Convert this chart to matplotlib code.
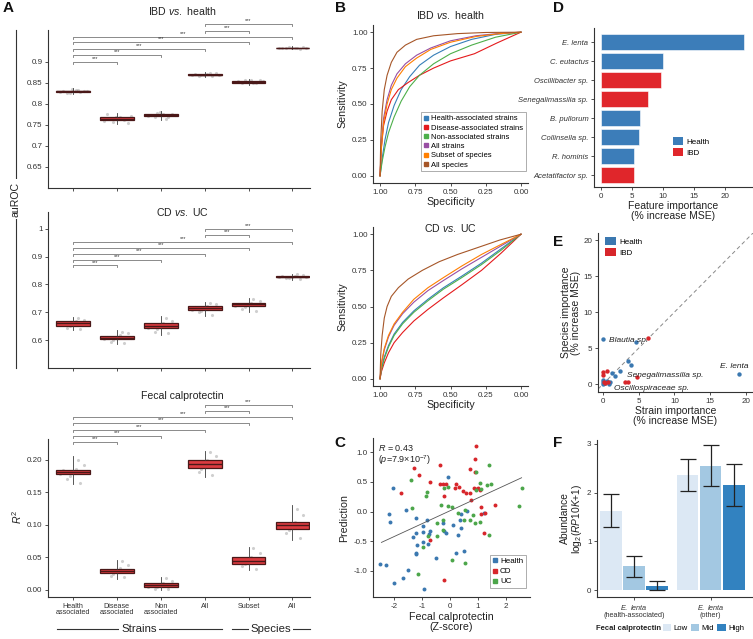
import numpy as np
import matplotlib
matplotlib.use('Agg')
import matplotlib.pyplot as plt
from matplotlib.lines import Line2D
from matplotlib.patches import Patch

plt.rcParams['font.family'] = ['Liberation Sans', 'DejaVu Sans']
plt.rcParams['mathtext.fontset'] = 'custom'
plt.rcParams['mathtext.rm'] = 'Liberation Sans'
plt.rcParams['mathtext.it'] = 'Liberation Sans:italic'
plt.rcParams['mathtext.bf'] = 'Liberation Sans:bold'

# ---------------- data ----------------
box_cats = ['Health\nassociated', 'Disease\nassociated', 'Non\nassociated', 'All', 'Subset', 'All']
comparisons = [(3, 5), (3, 4), (0, 5), (0, 4), (0, 3), (0, 2), (0, 1)]

ibd_med = [0.830, 0.765, 0.773, 0.870, 0.853, 0.933]
ibd_q1 = [0.828, 0.761, 0.771, 0.868, 0.851, 0.932]
ibd_q3 = [0.832, 0.768, 0.776, 0.872, 0.855, 0.934]
ibd_lo = [0.823, 0.752, 0.762, 0.864, 0.846, 0.930]
ibd_hi = [0.838, 0.779, 0.783, 0.876, 0.860, 0.937]
ibd_pts = [[0.829, 0.833, 0.826, 0.831, 0.836, 0.828, 0.830, 0.834, 0.825, 0.832],
           [0.760, 0.770, 0.765, 0.755, 0.768, 0.762, 0.775, 0.766, 0.758, 0.771],
           [0.772, 0.777, 0.768, 0.775, 0.780, 0.770, 0.774, 0.765, 0.778, 0.773],
           [0.869, 0.872, 0.867, 0.874, 0.870, 0.866, 0.871, 0.873, 0.868, 0.870],
           [0.852, 0.856, 0.850, 0.858, 0.853, 0.849, 0.855, 0.851, 0.857, 0.854],
           [0.933, 0.934, 0.932, 0.935, 0.933, 0.931, 0.934, 0.932, 0.936, 0.933]]
ibd_brackets = [0.990, 0.974, 0.960, 0.948, 0.931, 0.917, 0.900]

cd_med = [0.660, 0.609, 0.652, 0.715, 0.728, 0.828]
cd_q1 = [0.652, 0.603, 0.643, 0.707, 0.721, 0.825]
cd_q3 = [0.668, 0.616, 0.660, 0.722, 0.735, 0.830]
cd_lo = [0.635, 0.585, 0.618, 0.685, 0.700, 0.815]
cd_hi = [0.682, 0.635, 0.685, 0.738, 0.750, 0.838]
cd_pts = [[0.655, 0.668, 0.645, 0.672, 0.660, 0.640, 0.663, 0.678, 0.650, 0.658],
          [0.605, 0.618, 0.595, 0.625, 0.610, 0.590, 0.612, 0.630, 0.600, 0.608],
          [0.645, 0.660, 0.630, 0.668, 0.652, 0.625, 0.657, 0.680, 0.640, 0.650],
          [0.710, 0.722, 0.700, 0.730, 0.715, 0.692, 0.718, 0.735, 0.705, 0.712],
          [0.722, 0.735, 0.712, 0.742, 0.728, 0.705, 0.731, 0.748, 0.718, 0.726],
          [0.826, 0.830, 0.822, 0.833, 0.828, 0.818, 0.829, 0.836, 0.824, 0.827]]
cd_brackets = [1.000, 0.979, 0.954, 0.932, 0.911, 0.889, 0.868]

fc_med = [0.181, 0.029, 0.007, 0.194, 0.045, 0.100]
fc_q1 = [0.178, 0.026, 0.004, 0.188, 0.040, 0.094]
fc_q3 = [0.185, 0.032, 0.010, 0.199, 0.051, 0.105]
fc_lo = [0.163, 0.017, 0.000, 0.174, 0.030, 0.077]
fc_hi = [0.206, 0.046, 0.019, 0.213, 0.066, 0.130]
fc_pts = [[0.178, 0.186, 0.170, 0.192, 0.181, 0.165, 0.184, 0.200, 0.175, 0.183],
          [0.027, 0.033, 0.022, 0.038, 0.029, 0.019, 0.031, 0.044, 0.025, 0.030],
          [0.005, 0.010, 0.002, 0.014, 0.007, 0.001, 0.009, 0.018, 0.004, 0.008],
          [0.190, 0.200, 0.182, 0.206, 0.194, 0.176, 0.197, 0.212, 0.186, 0.193],
          [0.041, 0.050, 0.036, 0.057, 0.045, 0.032, 0.048, 0.064, 0.039, 0.046],
          [0.095, 0.105, 0.088, 0.115, 0.100, 0.080, 0.103, 0.125, 0.092, 0.099]]
fc_brackets = [0.285, 0.275, 0.266, 0.257, 0.246, 0.237, 0.228]

roc_labels = ['Health-associated strains', 'Disease-associated strains', 'Non-associated strains',
              'All strains', 'Subset of species', 'All species']
roc_colors = ['#377EB8', '#E41A1C', '#4DAF4A', '#984EA3', '#FF7F00', '#A65628']

ibd_roc_spec = [[1, 0.985, 0.965, 0.94, 0.90, 0.85, 0.79, 0.72, 0.62, 0.50, 0.35, 0.18, 0],
                [1, 0.99, 0.975, 0.95, 0.92, 0.87, 0.80, 0.72, 0.62, 0.50, 0.33, 0.17, 0],
                [1, 0.985, 0.965, 0.94, 0.90, 0.85, 0.79, 0.72, 0.62, 0.50, 0.35, 0.18, 0],
                [1, 0.99, 0.975, 0.95, 0.92, 0.88, 0.82, 0.74, 0.64, 0.50, 0.32, 0.15, 0],
                [1, 0.99, 0.975, 0.95, 0.92, 0.88, 0.82, 0.74, 0.64, 0.50, 0.32, 0.15, 0],
                [1, 0.995, 0.985, 0.97, 0.95, 0.92, 0.88, 0.82, 0.74, 0.62, 0.45, 0.25, 0]]
ibd_roc_sens = [[0, 0.12, 0.25, 0.37, 0.49, 0.60, 0.69, 0.77, 0.84, 0.90, 0.95, 0.985, 1],
                [0, 0.20, 0.35, 0.45, 0.53, 0.60, 0.65, 0.70, 0.75, 0.80, 0.85, 0.925, 1],
                [0, 0.10, 0.20, 0.30, 0.41, 0.52, 0.62, 0.70, 0.78, 0.85, 0.91, 0.965, 1],
                [0, 0.22, 0.40, 0.53, 0.63, 0.71, 0.78, 0.84, 0.89, 0.94, 0.975, 0.992, 1],
                [0, 0.20, 0.37, 0.50, 0.60, 0.68, 0.76, 0.82, 0.88, 0.93, 0.97, 0.99, 1],
                [0, 0.25, 0.45, 0.60, 0.70, 0.79, 0.86, 0.91, 0.95, 0.975, 0.99, 0.998, 1]]

cd_roc_spec = [[1, 0.99, 0.97, 0.94, 0.90, 0.84, 0.76, 0.66, 0.55, 0.42, 0.28, 0.14, 0],
               [1, 0.99, 0.97, 0.94, 0.90, 0.84, 0.76, 0.66, 0.55, 0.42, 0.28, 0.14, 0],
               [1, 0.99, 0.97, 0.94, 0.90, 0.84, 0.76, 0.66, 0.55, 0.42, 0.28, 0.14, 0],
               [1, 0.99, 0.97, 0.94, 0.90, 0.84, 0.76, 0.66, 0.55, 0.42, 0.28, 0.14, 0],
               [1, 0.99, 0.97, 0.94, 0.90, 0.84, 0.76, 0.66, 0.55, 0.42, 0.28, 0.14, 0],
               [1, 0.995, 0.985, 0.97, 0.95, 0.92, 0.87, 0.80, 0.70, 0.58, 0.45, 0.30, 0.15, 0]]
cd_roc_sens = [[0, 0.07, 0.15, 0.23, 0.31, 0.39, 0.47, 0.55, 0.63, 0.71, 0.80, 0.90, 1],
               [0, 0.05, 0.11, 0.18, 0.25, 0.32, 0.40, 0.48, 0.56, 0.65, 0.75, 0.87, 1],
               [0, 0.065, 0.14, 0.22, 0.30, 0.38, 0.46, 0.54, 0.62, 0.70, 0.79, 0.89, 1],
               [0, 0.10, 0.20, 0.29, 0.37, 0.45, 0.53, 0.61, 0.68, 0.76, 0.84, 0.92, 1],
               [0, 0.11, 0.21, 0.30, 0.38, 0.46, 0.55, 0.63, 0.70, 0.78, 0.86, 0.93, 1],
               [0, 0.17, 0.30, 0.42, 0.50, 0.57, 0.63, 0.69, 0.75, 0.81, 0.86, 0.91, 0.96, 1]]

c_health_x = [-2.05, -2.19, -2.14, -1.59, -1.2, -0.07, -0.82, -0.98, -0.96, -0.77, -1.2, -1.31, -1.17,
              -1.21, -1.2, -0.96, -0.8, -0.7, -0.21, -0.15, 0.11, 0.28, 0.4, 0.34, 0.38, 0.6, 0.22,
              0.5, -0.49, -1.5, -1.67, -2.0, -2.5, -2.28, -0.92, 1.22, -0.25]
c_health_y = [0.39, -0.04, -0.18, 0.03, -0.1, 0.59, -0.15, -0.25, -0.35, -0.38, -0.36, -0.43, -0.56,
              -0.69, -0.72, -0.52, -0.54, -0.33, -0.32, -0.36, -0.22, -0.39, -0.28, -0.14, -0.04, 0.01,
              -0.7, -0.67, -0.79, -0.98, -1.12, -1.2, -0.89, -0.9, -1.3, -0.03, -0.19]
c_cd_x = [0.93, 0.89, -0.37, -1.28, -1.10, 0.72, 0.89, -0.72, -1.75, -0.37, -0.27, -0.15, 0.22, 0.17,
          0.32, 0.46, 0.58, 0.70, 0.93, 1.05, 0.76, -0.2, 1.12, 1.11, 1.25, 1.61, 1.21, -0.72, -0.22,
          0.86, 0.99]
c_cd_y = [1.11, 0.88, 0.79, 0.74, 0.61, 0.72, 0.67, 0.49, 0.31, 0.46, 0.46, 0.46, 0.47, 0.39, 0.41,
          0.34, 0.32, 0.31, 0.38, 0.37, 0.20, 0.27, 0.07, -0.04, -0.02, 0.11, -0.36, -0.48, -1.15,
          0.40, 0.40]
c_uc_x = [1.37, -1.41, -0.82, -0.86, -1.36, -0.21, -0.06, -0.33, -0.07, 0.05, 0.54, 0.27, 1.05, 1.31,
          1.47, 1.11, 0.93, 0.93, 2.56, 2.47, -0.45, -0.25, -0.25, -0.45, -0.98, -0.8, 0.5, 0.82, 0.88,
          1.05, 1.37, 0.08, 0.52, -1.16, 0.7]
c_uc_y = [0.78, 0.53, 0.33, 0.27, 0.06, 0.39, 0.42, 0.11, 0.09, 0.08, 0.03, -0.03, 0.48, 0.44, 0.46,
          0.38, 0.37, 0.67, 0.39, 0.09, -0.19, -0.14, -0.31, -0.41, -0.6, -0.42, -0.15, -0.05, -0.19,
          -0.18, -0.39, -0.81, -0.87, -1.06, -0.14]
c_fit_x = [-2.45, 2.55]
c_fit_y = [-0.52, 0.57]

d_species = ['E. lenta', 'C. eutactus', 'Oscillibacter sp.', 'Senegalimassilia sp.', 'B. pullorum',
             'Collinsella sp.', 'R. hominis', 'Acetatifactor sp.']
d_importance = [23.0, 9.9, 9.7, 7.5, 6.2, 6.1, 5.3, 5.2]
d_group = ['Health', 'Health', 'IBD', 'IBD', 'Health', 'Health', 'Health', 'IBD']

e_health_x = [0, 4.6, 3.55, 3.87, 2.4, 1.24, 1.7, 19.1, 0, 0.55, 1.0, 0, 0.8, 0.3, 0.0]
e_health_y = [6.28, 5.8, 3.14, 2.68, 1.76, 1.52, 1.06, 1.43, 0.6, 0.37, 0.28, 0.05, 0.0, 0.2, 0.3]
e_ibd_x = [6.3, 0, 0.55, 0, 4.7, 3.1, 3.55, 0.3, 0.65, 0.1]
e_ibd_y = [6.37, 1.66, 1.76, 1.2, 0.92, 0.23, 0.23, 0.14, 0.23, 0.3]
e_labels = ['Blautia sp.', 'Senegalimassilia sp.', 'Oscillospiraceae sp.', 'E. lenta']
e_label_point = [0, 4, 12, 7]

f_groups = ['health-associated', 'other']
f_levels = ['Low', 'Mid', 'High']
f_colors = ['#DCE8F4', '#A3C8E2', '#3282C0']
f_mean = [[1.63, 0.50, 0.08], [2.36, 2.55, 2.16]]
f_lo = [[1.30, 0.28, 0.00], [2.04, 2.13, 1.73]]
f_hi = [[1.97, 0.71, 0.18], [2.70, 2.98, 2.59]]

# ---------------- figure ----------------
W, H = 753, 639
fig = plt.figure(figsize=(W / 100, H / 100), dpi=100)
fig.patch.set_facecolor('white')


def ax_px(l, t, r, b):
    return fig.add_axes([l / W, 1 - b / H, (r - l) / W, (b - t) / H])


def ftext(x, y, s, **kw):
    return fig.text(x / W, 1 - y / H, s, **kw)


def fline(x0, y0, x1, y1, **kw):
    fig.add_artist(Line2D([x0 / W, x1 / W], [1 - y0 / H, 1 - y1 / H], transform=fig.transFigure, **kw))


TC = '#333333'


def style(ax, ls=5.8):
    for s in ['top', 'right']:
        ax.spines[s].set_visible(False)
    for s in ['left', 'bottom']:
        ax.spines[s].set_color(TC)
        ax.spines[s].set_linewidth(0.8)
    ax.tick_params(direction='out', length=2.5, width=0.6, colors=TC, labelsize=ls, pad=1.5)
    ax.set_facecolor('none')


def box_panel(ax, med, q1, q3, lo, hi, pts, brackets, ylim, yticks, ylabels, hpx):
    style(ax)
    offs = np.array([-0.3, 0.06, -0.14, 0.25, -0.02, 0.17, -0.23, 0.11, -0.08, 0.32])
    for i, p in enumerate(pts):
        ax.scatter(i + offs, p, s=5, color='#a8a8a8', alpha=0.55, lw=0, zorder=1)
    stats = [dict(med=m, q1=a, q3=b, whislo=l, whishi=h) for m, a, b, l, h in zip(med, q1, q3, lo, hi)]
    ax.bxp(stats, positions=np.arange(len(stats)), widths=0.77, patch_artist=True, showfliers=False,
           showcaps=False, manage_ticks=False,
           boxprops=dict(facecolor='#DC3B40', edgecolor='#4a1818', linewidth=0.9),
           medianprops=dict(color='#4a1818', linewidth=1.0),
           whiskerprops=dict(color='#3a3a3a', linewidth=0.6), zorder=2)
    ax.set_xlim(-0.57, 5.4)
    ax.set_ylim(*ylim)
    ax.set_yticks(yticks)
    ax.set_yticklabels(ylabels)
    ax.set_xticks(np.arange(6))
    dy = (ylim[1] - ylim[0]) * 2.0 / hpx
    for (a, b), y in zip(comparisons, brackets):
        ax.plot([a, a, b, b], [y - dy, y, y, y - dy], color='#777777', lw=0.6, clip_on=False)
        ax.text((a + b) / 2, y + dy * 0.3, '***', ha='center', va='bottom', fontsize=4, color=TC,
                clip_on=False)


# Panel A
a1 = ax_px(48, 30, 310, 188)
box_panel(a1, ibd_med, ibd_q1, ibd_q3, ibd_lo, ibd_hi, ibd_pts, ibd_brackets, (0.6, 0.976),
          [0.65, 0.7, 0.75, 0.8, 0.85, 0.9], ['0.65', '0.7', '0.75', '0.8', '0.85', '0.9'], 158)
a1.set_xticklabels([])
a2 = ax_px(48, 212, 310, 368)
box_panel(a2, cd_med, cd_q1, cd_q3, cd_lo, cd_hi, cd_pts, cd_brackets, (0.5, 1.06),
          [0.6, 0.7, 0.8, 0.9, 1.0], ['0.6', '0.7', '0.8', '0.9', '1'], 156)
a2.set_xticklabels([])
a3 = ax_px(48, 439, 310, 597)
box_panel(a3, fc_med, fc_q1, fc_q3, fc_lo, fc_hi, fc_pts, fc_brackets, (-0.011, 0.232),
          [0, 0.05, 0.10, 0.15, 0.20], ['0.00', '0.05', '0.10', '0.15', '0.20'], 158)
a3.set_xticklabels(box_cats, fontsize=5.2, linespacing=0.95)

ftext(182, 11, r'IBD $\it{vs.}$ health', ha='center', va='center', fontsize=7.6, color='#222')
ftext(182, 212, r'CD $\it{vs.}$ UC', ha='center', va='center', fontsize=7.6, color='#222')
ftext(182, 396, 'Fecal calprotectin', ha='center', va='center', fontsize=7.6, color='#222')

fline(16, 30, 16, 368, color=TC, lw=0.8)
ftext(16, 199, 'auROC', rotation=90, ha='center', va='center', fontsize=7.6, color='#222',
      bbox=dict(facecolor='white', edgecolor='none', pad=1.5))
ftext(17, 517, r'$\it{R}^2$', rotation=90, ha='center', va='center', fontsize=7.6, color='#222')

fline(57, 629, 222, 629, color=TC, lw=0.8)
ftext(139, 629, 'Strains', ha='center', va='center', fontsize=8.2, color='#222',
      bbox=dict(facecolor='white', edgecolor='none', pad=1.5))
fline(232, 629, 310, 629, color=TC, lw=0.8)
ftext(271, 629, 'Species', ha='center', va='center', fontsize=8.2, color='#222',
      bbox=dict(facecolor='white', edgecolor='none', pad=1.5))

# Panel B
def roc_panel(ax, specs, senss):
    style(ax)
    for sp, se, c in zip(specs, senss, roc_colors):
        ax.plot(sp, se, color=c, lw=0.8)
    ax.set_xlim(1.05, -0.05)
    ax.set_ylim(-0.05, 1.05)
    t = [0, 0.25, 0.5, 0.75, 1.0]
    ax.set_xticks(t)
    ax.set_xticklabels(['0.00', '0.25', '0.50', '0.75', '1.00'])
    ax.set_yticks(t)
    ax.set_yticklabels(['0.00', '0.25', '0.50', '0.75', '1.00'])
    ax.set_xlabel('Specificity', fontsize=7.7, labelpad=1, color='#222')
    ax.set_ylabel('Sensitivity', fontsize=7.7, labelpad=3, color='#222')


b1 = ax_px(373, 25, 528, 183)
roc_panel(b1, ibd_roc_spec, ibd_roc_sens)
hs = [Line2D([], [], marker='s', ls='none', color=c, markersize=3) for c in roc_colors]
lg = b1.legend(hs, roc_labels, loc='lower right', bbox_to_anchor=(1.01, 0.05), fontsize=5.5,
               frameon=True, fancybox=False, edgecolor='#888', handlelength=0.6, handletextpad=0.3,
               borderpad=0.35, labelspacing=0.25)
lg.get_frame().set_linewidth(0.6)
b2 = ax_px(373, 227, 528, 386)
roc_panel(b2, cd_roc_spec, cd_roc_sens)
ftext(450, 15, r'IBD $\it{vs.}$ health', ha='center', va='center', fontsize=7.6, color='#222')
ftext(450, 228, r'CD $\it{vs.}$ UC', ha='center', va='center', fontsize=7.6, color='#222')

# Panel C
c = ax_px(373, 438, 530, 597)
style(c)
c.scatter(c_health_x, c_health_y, s=8, color='#3B78B0', lw=0, label='Health')
c.scatter(c_cd_x, c_cd_y, s=8, color='#D7262B', lw=0, label='CD')
c.scatter(c_uc_x, c_uc_y, s=8, color='#4CA64A', lw=0, label='UC')
c.plot(c_fit_x, c_fit_y, color='#555555', lw=0.6)
c.set_xlim(-2.75, 2.85)
c.set_ylim(-1.44, 1.24)
c.set_xticks([-2, -1, 0, 1, 2])
c.set_xticklabels(['-2', '-1', '0', '1', '2'])
c.set_yticks([-1, -0.5, 0, 0.5, 1])
c.set_yticklabels(['-1.0', '-0.5', '0.0', '0.5', '1.0'])
c.set_ylabel('Prediction', fontsize=7.7, labelpad=3, color='#222')
c.set_xlabel('Fecal calprotectin\n(Z-score)', fontsize=7.7, labelpad=2, color='#222', linespacing=1.0)
hc = [Line2D([], [], marker='s', ls='none', color=col, markersize=3) for col in ['#3B78B0', '#D7262B', '#4CA64A']]
lc = c.legend(hc, ['Health', 'CD', 'UC'], loc='lower right', bbox_to_anchor=(1.0, 0.03), fontsize=5.8,
              frameon=True, fancybox=False, edgecolor='#888', handlelength=0.6, handletextpad=0.3,
              borderpad=0.35, labelspacing=0.3)
lc.get_frame().set_linewidth(0.6)
c.text(0.03, 0.97, r'$\it{R}$ = 0.43' + '\n' + r'($\it{p}$=7.9×10$^{-7}$)', transform=c.transAxes,
       ha='left', va='top', fontsize=6.5, color='#222', linespacing=1.1)

# Panel D
d = ax_px(594, 28, 753, 187)
style(d)
dcol = {'Health': '#3C7DB9', 'IBD': '#E0262B'}
d.barh(np.arange(len(d_species)), d_importance, height=0.88, color=[dcol[g] for g in d_group],
       edgecolor='white', linewidth=0.4)
d.set_yticks(np.arange(len(d_species)))
d.set_yticklabels(d_species, fontstyle='italic', fontsize=5.5)
d.set_ylim(7.63, -0.74)
d.set_xlim(-1.2, 24.5)
d.set_xticks([0, 5, 10, 15, 20])
d.set_xlabel('Feature importance\n(% increase MSE)', fontsize=7.5, labelpad=1, color='#222', linespacing=1.0)
hd = [Patch(facecolor=dcol['Health']), Patch(facecolor=dcol['IBD'])]
d.legend(hd, ['Health', 'IBD'], loc='center left', bbox_to_anchor=(0.45, 0.25), fontsize=5.8,
         frameon=False, handlelength=1.3, handleheight=1.1, handletextpad=0.4, labelspacing=0.3)

# Panel E
e = ax_px(598, 233, 753, 392)
style(e)
e.axline((0, 0), slope=1, ls=(0, (4, 3)), color='#888888', lw=0.7, zorder=1)
e.scatter(e_health_x, e_health_y, s=10, color='#3B78B0', lw=0, zorder=3)
e.scatter(e_ibd_x, e_ibd_y, s=10, color='#D7262B', lw=0, zorder=3)
e.set_xlim(-0.7, 21)
e.set_ylim(-1.1, 21)
e.set_xticks([0, 5, 10, 15, 20])
e.set_yticks([0, 5, 10, 15, 20])
e.set_xlabel('Strain importance\n(% increase MSE)', fontsize=7.5, labelpad=1, color='#222', linespacing=1.0)
e.set_ylabel('Species importance\n(% increase MSE)', fontsize=7.5, labelpad=2, color='#222', linespacing=0.95)
offsets_e = [(4, -1), (5, -3), (4, -3.5), (-4, 3)]
has = ['left', 'left', 'left', 'center']
for name, idx, off, ha in zip(e_labels, e_label_point, offsets_e, has):
    e.annotate(name, (e_health_x[idx], e_health_y[idx]), xytext=off, textcoords='offset points',
               ha=ha, va='center' if ha == 'left' else 'bottom', fontsize=6, fontstyle='italic', color='#222')
he = [Patch(facecolor='#3B78B0'), Patch(facecolor='#D7262B')]
e.legend(he, ['Health', 'IBD'], loc='upper left', bbox_to_anchor=(0.0, 1.02), fontsize=5.8,
         frameon=False, handlelength=1.3, handleheight=1.1, handletextpad=0.4, labelspacing=0.3)

# Panel F
f = ax_px(597, 440, 753, 597)
style(f)
for gi in range(len(f_groups)):
    for li in range(len(f_levels)):
        x = gi + 1 + (li - 1) * 0.3
        m = f_mean[gi][li]
        f.bar(x, m, width=0.28, color=f_colors[li], lw=0)
        f.errorbar(x, m, yerr=[[m - f_lo[gi][li]], [f_hi[gi][li] - m]], fmt='none', ecolor='#222',
                   elinewidth=0.9, capsize=5.5, capthick=0.9)
f.set_xlim(0.52, 2.55)
f.set_ylim(-0.14, 3.08)
f.set_yticks([0, 1, 2, 3])
f.set_xticks([1, 2])
f.set_xticklabels([r'$\it{E.\ lenta}$' + '\n(' + g + ')' for g in f_groups], fontsize=5.2, linespacing=1.0)
f.set_ylabel('Abundance\n' + r'log$_2$($\it{RP10K}$+1)', fontsize=7.4, labelpad=2, color='#222',
             linespacing=1.0)
ftext(596, 628, 'Fecal calprotectin', ha='left', va='center', fontsize=5.5, fontweight='bold', color='#222')
hf = [Patch(facecolor=col) for col in f_colors]
fig.legend(hf, f_levels, loc='center left', bbox_to_anchor=(658 / W, 1 - 628 / H), ncol=3, frameon=False,
           fontsize=5.6, handlelength=1.1, handleheight=1.1, handletextpad=0.25, columnspacing=0.45,
           borderaxespad=0.2)

# Panel labels
for lab, x, y in [('A', 8, 8), ('B', 341, 8), ('C', 340, 443), ('D', 558, 8), ('E', 558, 242), ('F', 558, 443)]:
    ftext(x, y, lab, ha='center', va='center', fontsize=11, fontweight='bold', color='#111')

fig.savefig('out.png', dpi=100)
